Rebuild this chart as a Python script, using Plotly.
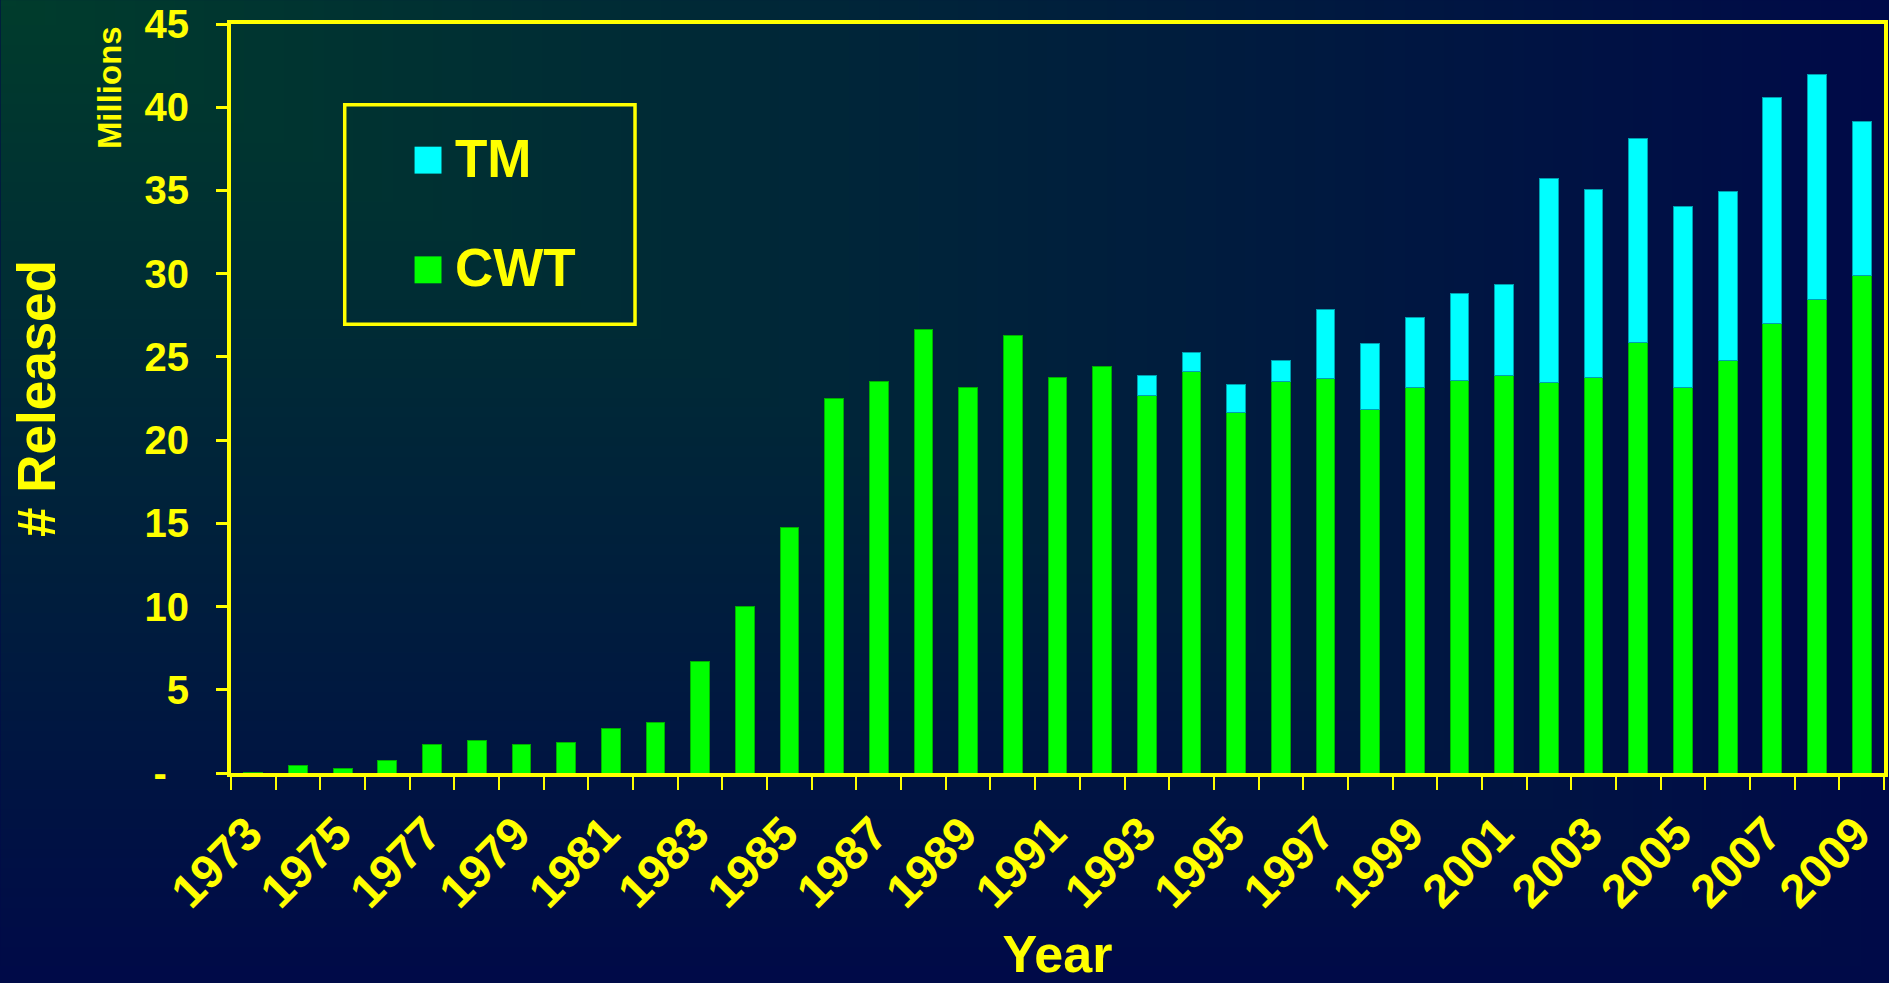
import base64, struct, zlib
import numpy as np
import plotly.graph_objects as go

# ---------------- data ----------------
years = [str(y) for y in range(1973, 2010)]
cwt = [0.05, 0.46, 0.26, 0.75, 1.71, 1.96, 1.69, 1.85, 2.66, 3.05,
       6.69, 9.98, 14.77, 22.5, 23.52, 26.67, 23.16, 26.3, 23.75, 24.4,
       22.68, 24.11, 21.63, 23.55, 23.71, 21.83, 23.19, 23.57, 23.91, 23.49,
       23.77, 25.87, 23.15, 24.8, 27.0, 28.43, 29.92]
tm = [None] * 20 + [1.19, 1.17, 1.72, 1.25, 4.13, 3.98, 4.15, 5.22, 5.41, 12.24,
                    11.31, 12.24, 10.88, 10.12, 13.6, 13.51, 9.22]
y_tickvals = [0, 5, 10, 15, 20, 25, 30, 35, 40, 45]
y_ticktext = ["-\u00a0\u00a0", "5", "10", "15", "20", "25", "30", "35", "40", "45"]

# ---------------- geometry ----------------
W, H = 1889, 983
ML, MR, MT, MB = 231, 1, 24, 208
PW, PH = W - ML - MR, H - MT - MB
YEL = "#ffff00"
FONT = "Liberation Sans, Arial, sans-serif"


def px(x):
    return (x - ML) / PW


def py(y):
    return 1 - (y - MT) / PH


# ---------------- gradient background ----------------
def gradient_png(w=190, h=100):
    c0 = np.array([0, 60, 44], dtype=float)
    c1 = np.array([0, 10, 72], dtype=float)
    xs = np.linspace(0, 1, w)[None, :]
    ys = np.linspace(0, 1, h)[:, None]
    t = np.clip(np.maximum(xs, ys), 0, 1)[..., None]
    arr = (c0 * (1 - t) + c1 * t).round().astype(np.uint8)
    raw = b"".join(b"\x00" + arr[r].tobytes() for r in range(h))

    def chunk(tag, data):
        return (struct.pack(">I", len(data)) + tag + data
                + struct.pack(">I", zlib.crc32(tag + data) & 0xFFFFFFFF))

    png = (b"\x89PNG\r\n\x1a\n"
           + chunk(b"IHDR", struct.pack(">IIBBBBB", w, h, 8, 2, 0, 0, 0))
           + chunk(b"IDAT", zlib.compress(raw, 9))
           + chunk(b"IEND", b""))
    return "data:image/png;base64," + base64.b64encode(png).decode()


fig = go.Figure()
fig.add_trace(go.Bar(x=years, y=cwt, name="CWT", showlegend=False,
                     marker=dict(color="#00ff00", line=dict(color="#00b000", width=1))))
fig.add_trace(go.Bar(x=years, y=tm, name="TM", showlegend=False,
                     marker=dict(color="#00ffff", line=dict(color="#00a0b0", width=1))))

fig.update_layout(
    width=W, height=H,
    margin=dict(l=ML, r=MR, t=MT, b=MB, pad=0),
    barmode="stack", bargap=0.58,
    paper_bgcolor="#000a48", plot_bgcolor="rgba(0,0,0,0)",
    font=dict(family=FONT, color=YEL),
    images=[dict(source=gradient_png(), xref="paper", yref="paper",
                 x=-ML / PW, y=1 + MT / PH, sizex=W / PW, sizey=H / PH,
                 sizing="stretch", xanchor="left", yanchor="top", layer="below")],
    xaxis=dict(type="category", categoryorder="array", categoryarray=years,
               tickmode="linear", tick0=0, dtick=1,
               tickson="boundaries", ticks="outside", ticklen=13, tickwidth=2,
               tickcolor=YEL, ticklabelstep=2, tickangle=-45,
               tickfont=dict(size=47, color=YEL, weight="bold", family=FONT),
               ticklabelstandoff=10, ticklabelshift=-5,
               showline=True, linecolor=YEL, linewidth=4, mirror=True,
               showgrid=False, zeroline=False,
               title=dict(text="Year", standoff=28,
                          font=dict(size=52, color=YEL, weight="bold", family=FONT))),
    yaxis=dict(range=[0, 45], tickmode="array", tickvals=y_tickvals, ticktext=y_ticktext,
               ticks="outside", ticklen=11, tickwidth=3, tickcolor=YEL,
               tickfont=dict(size=40, color=YEL, weight="bold", family=FONT),
               ticklabelstandoff=19,
               showline=True, linecolor=YEL, linewidth=4, mirror=True,
               showgrid=False, zeroline=False,
               title=dict(text="# Released", standoff=73,
                          font=dict(size=53, color=YEL, weight="bold", family=FONT))),
    shapes=[
        dict(type="rect", xref="paper", yref="paper",
             x0=px(345), x1=px(636), y0=py(105), y1=py(325),
             line=dict(color=YEL, width=3.5), fillcolor="rgba(0,0,0,0)"),
        dict(type="rect", xref="paper", yref="paper",
             x0=px(415), x1=px(442), y0=py(147), y1=py(174),
             line=dict(width=0), fillcolor="#00ffff"),
        dict(type="rect", xref="paper", yref="paper",
             x0=px(415), x1=px(442), y0=py(257), y1=py(284),
             line=dict(width=0), fillcolor="#00ff00"),
    ],
    annotations=[
        dict(text="TM", xref="paper", yref="paper", x=px(454), y=py(159),
             xanchor="left", yanchor="middle", showarrow=False,
             font=dict(size=53, color=YEL, weight="bold", family=FONT)),
        dict(text="CWT", xref="paper", yref="paper", x=px(454), y=py(268),
             xanchor="left", yanchor="middle", showarrow=False,
             font=dict(size=53, color=YEL, weight="bold", family=FONT)),
        dict(text="Millions", xref="paper", yref="paper", x=px(110), y=py(88),
             xanchor="center", yanchor="middle", textangle=-90, showarrow=False,
             font=dict(size=33, color=YEL, weight="bold",
                       family="Liberation Sans Narrow, Arial Narrow, Liberation Sans")),
    ],
)

fig.write_html("out.html")
